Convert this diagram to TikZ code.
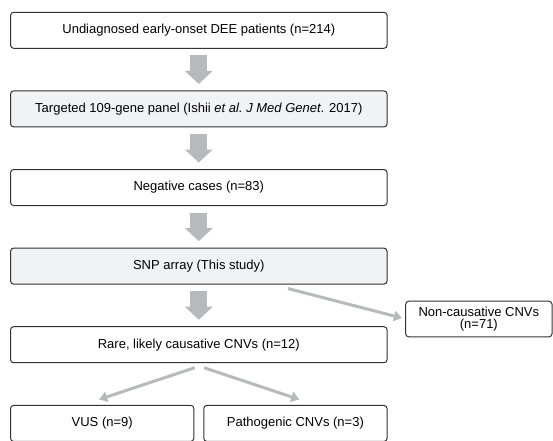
\documentclass[tikz,border=0pt]{standalone}
\usepackage{fontspec}
\setmainfont{Liberation Sans}
\usetikzlibrary{positioning,arrows.meta}
\definecolor{arrowgray}{RGB}{184,185,188}
\definecolor{boxline}{RGB}{50,50,50}
\definecolor{boxfill}{RGB}{241,242,243}
\tikzset{
  box/.style={draw=boxline, line width=1pt, rounded corners=3pt, outer sep=0pt,
    inner sep=0pt, minimum width=376.4pt, minimum height=36pt,
    font=\fontsize{13pt}{15pt}\selectfont},
  shaded/.style={fill=boxfill},
  smallbox/.style={box, minimum width=183.2pt},
  fatarrow/.style={color=arrowgray, line width=17pt,
    -{Triangle[length=13pt,width=28pt,line width=0pt]},
    shorten <=7pt, shorten >=7pt},
  thinarrow/.style={color=arrowgray, line width=3pt,
    -{Triangle[length=8pt,width=11pt,line width=0pt]}}
}

\begin{document}
\begin{tikzpicture}
           \useasboundingbox (0pt,0pt) rectangle (553pt,-440pt);
           \node[box] (undiag) at (198.8pt,-30.3pt) {Undiagnosed early-onset DEE patients (n=214)};
           \node[box,shaded] (panel) [below=42.6pt of undiag] {Targeted 109-gene panel (Ishii \textit{et al.\ J Med Genet}. 2017)};
           \node[box] (neg) [below=42.6pt of panel] {Negative cases (n=83)};
           \node[box,shaded] (snp) [below=42.6pt of neg] {SNP array (This study)};
           \node[box] (rare) [below=42.6pt of snp] {Rare, likely causative CNVs (n=12)};
           \node[box, minimum width=146.3pt, minimum height=35.6pt, align=center,
                 font=\fontsize{13pt}{12.5pt}\selectfont] (noncaus) [right=18.7pt of rare, yshift=25.7pt] {Non-causative CNVs\\(n=71)};
           \node[smallbox] (vus) [below=42.7pt of rare.south west, anchor=north west] {VUS (n=9)};
           \node[smallbox] (patho) [below=42.7pt of rare.south east, anchor=north east] {Pathogenic CNVs (n=3)};
            \path[fatarrow]
            (undiag) edge (panel)
            (panel) edge (neg)
            (neg) edge (snp)
            (snp) edge (rare)
            ;
            \path[thinarrow]
            ([xshift=72pt]snp.south) edge [shorten <=17.8pt, shorten >=4pt] (noncaus.west)
            ([xshift=-4pt,yshift=-5pt]rare.south) edge ([xshift=-3pt,yshift=6pt]vus.north)
            ([xshift=5.2pt,yshift=-5pt]rare.south) edge ([xshift=3.8pt,yshift=6pt]patho.north)
            ;
        \end{tikzpicture}
\end{document}
